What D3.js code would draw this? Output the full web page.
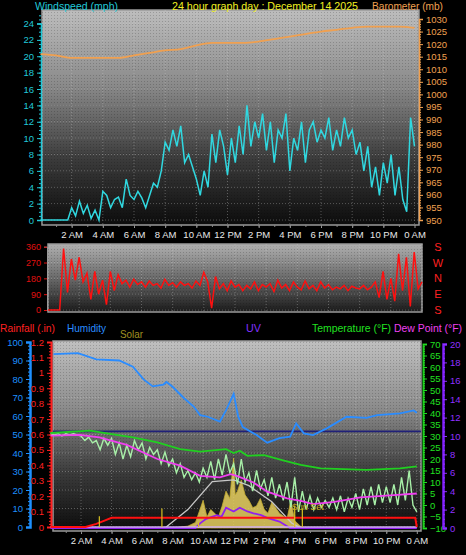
<!DOCTYPE html>
<html><head><meta charset="utf-8">
<script src="https://cdn.jsdelivr.net/npm/d3@7"></script>
<style>body{margin:0;background:#000;}svg{display:block;font-family:"Liberation Sans",Arial,sans-serif;}</style>
</head><body><svg id="c" width="466" height="555"></svg>
<script>
// ---- data ----
const hourLabels = ["2 AM","4 AM","6 AM","8 AM","10 AM","12 PM","2 PM","4 PM","6 PM","8 PM","10 PM","0 AM"];
const windTicks = [0,2,4,6,8,10,12,14,16,18,20,22,24];
const baroTicks = [950,955,960,965,970,975,980,985,990,995,1000,1005,1010,1015,1020,1025,1030];
// windspeed every 15 minutes
const wind = [0,0,0,0,0,0,0,0,
 1.5,0.5,2.3,0.8,1.8,0.2,1.2,0,
 3.5,3,1.5,2.5,2.8,1.5,5,3,2.5,3.5,2.7,1.5,3,4.5,4,6,
 9.5,8.5,11,9,11.5,7,8,6.5,5,3,6,4,10.5,7,11,9,
 5.5,10,7,11.5,8,14,9,12,10,13,8.5,12,7,11,10,13,
 6,10,8.5,12,7,11,12,9.5,11,10,12.5,8.5,11,9,12.5,10,
 11,8,9.5,6,9,4,6.5,3,7,4.5,8,3,6.5,2.5,1,12.5,9];
// barometer hourly
const baro = [1016,1015.5,1014.5,1014.5,1014.5,1014.5,1015.5,1016.5,1017.5,1018,1019.5,1020.5,1020.5,1020.5,1021,1022,1023,1024,1025,1025.7,1026.5,1027,1027,1027,1026.5];
const dirTicks = [0,90,180,270,360];
const dirLetters = ["S","E","N","W","S"];
const direction = [0,0,0,0,
 350,100,290,170,300,160,210,60,220,90,170,30,220,110,200,150,
 170,130,175,145,160,130,165,140,150,125,175,140,155,130,160,140,
 150,125,165,140,215,160,10,190,120,150,110,165,130,145,110,140,
 120,160,110,145,130,150,105,170,125,145,110,160,130,115,165,120,
 140,110,160,125,145,115,130,120,140,110,135,125,120,140,115,130,
 160,70,220,60,180,50,320,110,300,20,330,120,160];
const humTicks = [0,10,20,30,40,50,60,70,80,90,100];
const rainTicks = [0,0.1,0.2,0.3,0.4,0.5,0.6,0.7,0.8,0.9,1,1.1,1.2];
const tempTicks = [-10,-5,0,5,10,15,20,25,30,35,40,45,50,55,60,65,70];
const uvTicks = [0,2,4,6,8,10,12,14,16,18,20];
const humidity = [[0.2,93.5],[1.8,94],[3,90.6],[4.5,90],[5.4,86.6],[6.1,79.8],[6.7,76],[7.4,77],[7.6,78.4],[8,75.8],[8.7,70],[9.4,65],[9.8,60.5],[10.3,59.6],[11.1,57],[11.5,63],[12,72],[12.3,59.6],[12.6,54],[13.5,49.7],[14.2,45.6],[15,48],[15.7,48.8],[16.1,56],[16.6,50.6],[17.2,49.7],[18.1,53.3],[19.4,59.6],[20.7,59],[21.4,60.5],[22.9,61.4],[23.8,63],[24,61.8]];
const temperature = [[0,31.3],[2.6,32.3],[3.9,30.9],[5.4,29.4],[7,27.2],[8.5,24.3],[9.8,23.2],[11.5,24.3],[12,22.6],[12.4,23.6],[12.9,21.4],[14,21.7],[15.3,19.3],[16.4,17.4],[17.7,15.9],[20.7,15.3],[22.9,15.9],[24,16.8]];
const dewpoint = [[0,30.2],[1.9,30.5],[3.2,29.4],[5,26.1],[7,20],[8.5,17.1],[9.8,12.7],[11.1,12],[11.8,13.4],[12.2,12.7],[13.3,9.8],[14.2,5.8],[15.5,2.9],[16.4,1.8],[17.2,0.4],[18.6,1.4],[20.3,3.3],[22.5,4.3],[24,5]];
// apparent temperature every 15 minutes
const apparent = [31,30.5,31,30,31,30.5,31,30.5,30,28,29.5,27,28,24,29,26,
 29,22,27,20,26,21,28,24,27,20,25,22,24,18,23,17,
 20,14,18,12,15,11,14,10,16,12,19,11,20,13,22,14,
 18,9,20,10,14,6,15,7,11,4,12,3,9,2,10,-1,
 12,-3,6,-2,4,-2,3,-1,2,-1,3,-2,4,-3,3,-1,
 5,-2,7,0,8,0,9,1,8,1,9,0,12,2,15,0,-3];
const solar = [[8,0],[8.5,5],[9,10],[9.5,30],[9.75,90],[10,150],[10.25,60],[10.5,100],[11,60],[11.25,120],[11.5,200],[11.75,160],[12,380],[12.1,180],[12.25,200],[12.5,260],[12.75,180],[13,150],[13.25,110],[13.5,120],[13.75,160],[14,100],[14.25,80],[14.5,140],[15,80],[15.5,50],[15.75,150],[16,40],[16.25,20],[16.5,0]];
const solarMax = [[7.5,0],[9,100],[10.6,252],[12,262],[13,230],[14.5,143],[15.8,27],[16.4,0]];
const uv = [[0,0],[9.5,0],[9.8,0.5],[10.2,1],[10.9,1.4],[11.2,1.2],[11.5,2.2],[12,1.8],[12.4,2.2],[12.9,1.8],[13.3,1.6],[13.8,1.4],[14.2,1.1],[15,0.7],[15.5,0.2],[15.7,0],[24,0]];
const rain = [[0,0],[2.3,0],[3,0.02],[3.5,0.04],[4,0.06],[23.9,0.06],[24,0]];
const sunMarks = [[3.2,0.07],[7.3,0.12],[9.7,0.03],[16,0.14],[16.5,0.12]];

// ---- drawing ----
const svg = d3.select("#c");
const defs = svg.append("defs");
function grad(id, stops){
  const g = defs.append("linearGradient").attr("id",id).attr("x1",0).attr("y1",0).attr("x2",0).attr("y2",1);
  stops.forEach(s=>g.append("stop").attr("offset",s[0]).attr("stop-color",s[1]));
}
grad("g1",[[0,"#bdbdbd"],[0.35,"#8a8a8a"],[0.7,"#3a3a3a"],[1,"#0c0c0c"]]);
grad("g2",[[0,"#b0b0b0"],[0.5,"#6a6a6a"],[1,"#1a1a1a"]]);
grad("g3",[[0,"#c0c0c0"],[0.35,"#8c8c8c"],[0.7,"#3a3a3a"],[1,"#0c0c0c"]]);
const pat = defs.append("pattern").attr("id","dots").attr("width",3).attr("height",3).attr("patternUnits","userSpaceOnUse");
pat.append("rect").attr("width",1).attr("height",1).attr("fill","rgba(0,0,0,0.18)");

function panel(x0,y0,x1,y1,g){
  svg.append("rect").attr("x",x0).attr("y",y0).attr("width",x1-x0).attr("height",y1-y0).attr("fill",`url(#${g})`).attr("stroke","#9a9a9a").attr("stroke-width",1.5);
  svg.append("rect").attr("x",x0).attr("y",y0).attr("width",x1-x0).attr("height",y1-y0).attr("fill","url(#dots)");
}
function grid(x,yscale,ticks,x0,x1,y0,y1){
  const g = svg.append("g").attr("stroke","rgba(210,210,210,0.35)").attr("stroke-dasharray","1,2");
  d3.range(2,25,2).forEach(h=>g.append("line").attr("x1",x(h)).attr("x2",x(h)).attr("y1",y0).attr("y2",y1));
  ticks.forEach(t=>g.append("line").attr("x1",x0).attr("x2",x1).attr("y1",yscale(t)).attr("y2",yscale(t)));
}
function txt(x,y,s,c,size,anchor,len){
  const t = svg.append("text").attr("x",x).attr("y",y).text(s).attr("fill",c).attr("font-size",size||10).attr("text-anchor",anchor||"start");
  if(len) t.attr("textLength",len).attr("lengthAdjust","spacingAndGlyphs");
  return t;
}
function yAxis(scale,ticks,x,side,color,fmt,minor,lineColor,lw){
  const ax = side==="left" ? d3.axisLeft(scale) : d3.axisRight(scale);
  const g = svg.append("g").attr("transform",`translate(${x},0)`);
  if(minor){
    const mg = svg.append("g").attr("transform",`translate(${x},0)`)
      .call((side==="left"?d3.axisLeft(scale):d3.axisRight(scale)).tickValues(minor).tickSize(2).tickFormat(""));
    mg.selectAll("line").attr("stroke",color); mg.select(".domain").remove();
  }
  g.call(ax.tickValues(ticks).tickSize(4).tickPadding(3).tickFormat(fmt||d3.format("")));
  g.selectAll("text").attr("fill",color).attr("font-size",9.5).attr("font-family","Liberation Sans, Arial");
  g.selectAll("line").attr("stroke",color);
  g.select(".domain").attr("stroke",lineColor||color).attr("stroke-width",lw||1.5);
  return g;
}
function xAxis(x,y){
  const g = svg.append("g").attr("transform",`translate(0,${y})`)
    .call(d3.axisBottom(x).tickValues(d3.range(2,25,2)).tickSize(3).tickFormat((d,i)=>hourLabels[i]));
  g.selectAll("text").attr("fill","#e8e8e8").attr("font-size",9.5).attr("font-family","Liberation Sans, Arial");
  g.selectAll("line").attr("stroke","#999");
  g.select(".domain").remove();
  const mg = svg.append("g").attr("transform",`translate(0,${y})`).call(d3.axisBottom(x).tickValues(d3.range(1,24,1)).tickSize(2).tickFormat(""));
  mg.selectAll("line").attr("stroke","#888"); mg.select(".domain").remove();
}
const q = (arr)=>arr.map((v,i)=>[i/4,v]);

// ===== top panel =====
const xT = d3.scaleLinear().domain([0,24]).range([40.5,414.5]);
const yW = d3.scaleLinear().domain([0,24]).range([220,23.5]);
const yB = d3.scaleLinear().domain([950,1030]).range([220,19]);
panel(42,10,419,225,"g1");
grid(xT,yW,windTicks,42,419,10,225);
yAxis(yW,windTicks,41,"left","#20c8d8",null,d3.range(0,25.5,0.5));
yAxis(yB,baroTicks,419,"right","#f0a050",null,d3.range(950,1031,1));
xAxis(xT,225);
svg.append("path").datum(baro.map((v,i)=>[i,v])).attr("fill","none").attr("stroke","#f0a050").attr("stroke-width",1.8)
  .attr("d",d3.line().x(d=>xT(d[0])).y(d=>yB(d[1])).curve(d3.curveMonotoneX));
svg.append("path").datum(q(wind)).attr("fill","none").attr("stroke","#30d8e0").attr("stroke-width",1.5)
  .attr("d",d3.line().x(d=>xT(d[0])).y(d=>yW(d[1])));
txt(35,10,"Windspeed (mph)","#20c8d8",11,"start",83);
txt(172,10,"24 hour graph day : December 14 2025","#f0f020",11,"start",186);
txt(372,10,"Barometer (mb)","#f0a050",11,"start",71);

// ===== direction panel =====
const xD = d3.scaleLinear().domain([0,24]).range([48,422]);
const yD = d3.scaleLinear().domain([0,360]).range([310,246.7]);
panel(48,244,422,312,"g2");
grid(xD,yD,dirTicks,48,422,244,312);
const dg = svg.append("g").attr("transform","translate(47,0)").call(d3.axisLeft(yD).tickValues(dirTicks).tickSize(3));
dg.selectAll("text").attr("fill","#e01010").attr("font-size",9);
dg.selectAll("line").attr("stroke","#e01010"); dg.select(".domain").attr("stroke","#999");
svg.append("path").datum(q(direction)).attr("fill","none").attr("stroke","#ff1010").attr("stroke-width",1.5)
  .attr("d",d3.line().x(d=>xD(d[0])).y(d=>yD(d[1])));
dirLetters.forEach((l,i)=>txt(438,yD(dirTicks[i])+4,l,"#ff2020",11,"middle"));

// ===== bottom panel =====
const xB = d3.scaleLinear().domain([0,24]).range([50.5,416.8]);
const yH = d3.scaleLinear().domain([0,100]).range([527,342]);
const yR = d3.scaleLinear().domain([0,1.2]).range([527,342]);
const yTm = d3.scaleLinear().domain([-10,70]).range([528,344]);
const yU = d3.scaleLinear().domain([0,20]).range([528,344]);
const yS = d3.scaleLinear().domain([0,1000]).range([528,344]);
panel(53,341,421,531,"g3");
grid(xB,yH,humTicks,53,421,341,531);
yAxis(yH,humTicks,30,"left","#1e90ff",null,d3.range(0,101,2),"#1e90ff",2.5);
yAxis(yR,rainTicks,51,"left","#ff2020",d3.format(""),d3.range(0,1.21,0.02),"#ff2020",2);
yAxis(yTm,tempTicks,423,"right","#20e020",null,d3.range(-10,71,1),"#20c020",2);
yAxis(yU,uvTicks,443,"right","#9030ff",null,d3.range(0,20.5,0.5),"#8020ff",2.5);
xAxis(xB,531);

const ln = (ys)=>d3.line().x(d=>xB(d[0])).y(d=>ys(d[1]));
svg.append("line").attr("x1",53).attr("x2",421).attr("y1",yTm(32)).attr("y2",yTm(32)).attr("stroke","#202078").attr("stroke-width",1.8);
svg.append("path").datum(solar).attr("fill","#e8d060").attr("fill-opacity",0.85).attr("stroke","#c8b030").attr("stroke-width",0.8)
  .attr("d",d3.area().x(d=>xB(d[0])).y0(yS(0)).y1(d=>yS(d[1])));
svg.append("path").datum(solarMax).attr("fill","none").attr("stroke","#c8c8c8").attr("stroke-width",1.3).attr("d",ln(yS));
svg.append("path").datum(q(apparent)).attr("fill","none").attr("stroke","#a8f0a8").attr("stroke-width",1.4).attr("d",ln(yTm));
svg.append("path").datum(humidity).attr("fill","none").attr("stroke","#2a8cff").attr("stroke-width",1.8).attr("d",ln(yH));
svg.append("path").datum(temperature).attr("fill","none").attr("stroke","#20d020").attr("stroke-width",1.8).attr("d",ln(yTm));
svg.append("path").datum(dewpoint).attr("fill","none").attr("stroke","#f040f0").attr("stroke-width",1.8).attr("d",ln(yTm));
svg.append("path").datum(uv).attr("fill","none").attr("stroke","#9020f0").attr("stroke-width",1.8).attr("d",ln(yU));
svg.append("line").attr("x1",xB(0)).attr("x2",xB(24)).attr("y1",yU(0)-1).attr("y2",yU(0)-1).attr("stroke","#d0b0f0").attr("stroke-width",1.5);
svg.append("path").datum(rain).attr("fill","none").attr("stroke","#ff1010").attr("stroke-width",2).attr("d",ln(yR));
sunMarks.forEach(m=>svg.append("line").attr("x1",xB(m[0])).attr("x2",xB(m[0])).attr("y1",yR(0)).attr("y2",yR(m[1])).attr("stroke","#d8c020").attr("stroke-width",1.2));
txt(xB(15.8),yR(0.11),"Sun Set","#c8b020",9);

txt(0,332,"Rainfall (.in)","#ff2020",11,"start",55);
txt(67,332,"Humidity","#2a8cff",11,"start",39);
txt(120,338,"Solar","#a09020",11,"start",23);
txt(246,332,"UV","#8030ff",11,"start",15);
txt(312,332,"Temperature (°F)","#20e020",11,"start",79);
txt(394,332,"Dew Point (°F)","#f040f0",11,"start",68);
</script></body></html>
